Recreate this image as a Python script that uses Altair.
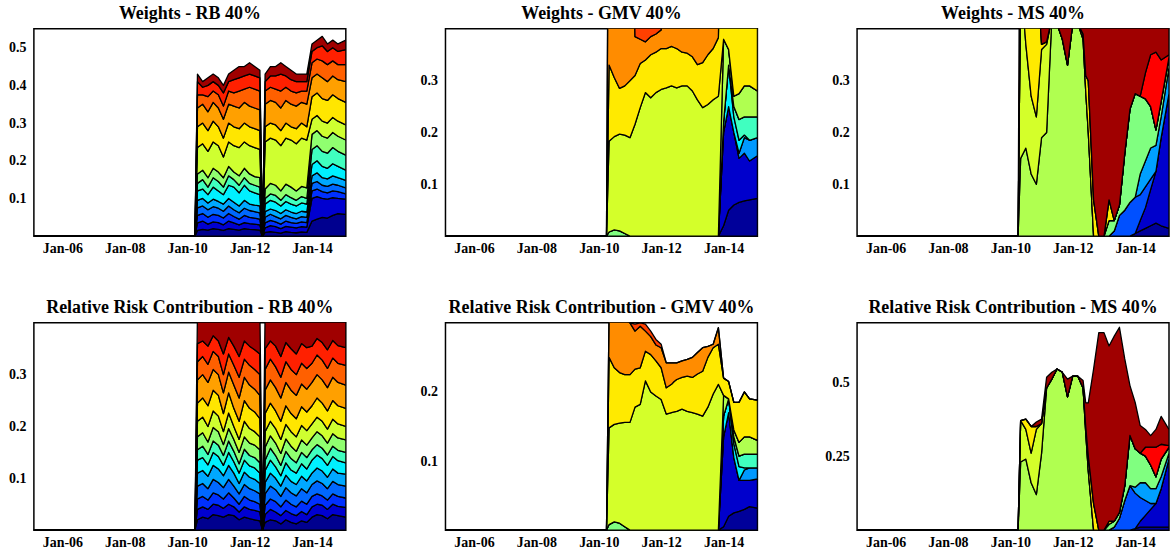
import altair as alt
import numpy as np
import pandas as pd

# ---------------- data ----------------
LEAD_DATES = ["2005-02-01", "2010-04-01"]  # portfolios hold nothing before mid-2010
DATES = ["2010-05-01", "2010-07-01", "2010-09-01", "2010-11-01", "2011-01-01", "2011-03-01",
         "2011-05-01", "2011-07-01", "2011-09-01", "2011-11-01", "2012-01-01", "2012-03-01",
         "2012-05-01", "2012-06-01", "2012-07-01", "2012-09-01", "2012-11-01", "2013-01-01",
         "2013-03-01", "2013-05-01", "2013-07-01", "2013-09-01", "2013-11-01", "2014-01-01",
         "2014-03-01", "2014-05-01", "2014-07-01", "2014-09-01", "2014-11-01", "2015-02-01"]
X_TICK_YEARS = [2006, 2008, 2010, 2012, 2014]

# RB weights: cumulative level of each band (bottom -> top)
RB_W_LEVELS = [
    [.015, .018, .016, .02, .018, .015, .02, .018, .016, .02, .018, .017, .016, 0, .01, .012, .01, .008, .012, .01, .009, .011, .01, .04, .045, .05, .048, .055, .06, .058],
    [.035, .04, .032, .038, .036, .03, .04, .035, .03, .036, .033, .032, .03, 0, .022, .028, .025, .02, .026, .024, .022, .025, .024, .10, .105, .10, .098, .102, .10, .098],
    [.055, .06, .05, .058, .055, .048, .06, .052, .045, .055, .05, .048, .045, 0, .035, .042, .038, .032, .04, .036, .034, .038, .036, .12, .125, .118, .115, .12, .118, .112],
    [.075, .08, .07, .078, .074, .066, .08, .07, .062, .074, .068, .065, .062, 0, .05, .058, .052, .046, .055, .05, .046, .052, .05, .14, .145, .135, .132, .138, .135, .128],
    [.095, .10, .088, .098, .092, .085, .10, .09, .08, .095, .085, .082, .08, 0, .065, .072, .068, .06, .07, .064, .06, .066, .064, .16, .168, .155, .152, .16, .155, .148],
    [.12, .125, .11, .13, .12, .11, .135, .13, .115, .135, .12, .115, .11, 0, .085, .095, .09, .08, .092, .085, .08, .088, .085, .19, .2, .185, .18, .192, .185, .175],
    [.14, .15, .13, .155, .145, .13, .16, .15, .135, .155, .14, .135, .13, 0, .10, .112, .108, .095, .11, .102, .095, .105, .10, .23, .24, .225, .22, .235, .225, .215],
    [.165, .175, .155, .18, .17, .155, .185, .17, .16, .18, .165, .158, .155, 0, .125, .14, .135, .12, .138, .13, .12, .132, .128, .27, .28, .265, .26, .275, .265, .255],
    [.235, .245, .225, .25, .24, .21, .25, .24, .235, .25, .24, .235, .23, 0, .25, .26, .255, .24, .26, .255, .245, .26, .255, .31, .32, .305, .30, .315, .305, .295],
    [.29, .30, .28, .305, .29, .26, .30, .29, .285, .30, .29, .285, .28, 0, .29, .30, .295, .28, .30, .29, .285, .30, .29, .37, .38, .365, .36, .375, .365, .355],
    [.34, .35, .33, .355, .34, .31, .35, .345, .34, .355, .345, .34, .335, 0, .35, .36, .355, .34, .36, .35, .345, .355, .35, .42, .43, .42, .41, .425, .415, .41],
    [.375, .375, .37, .385, .375, .345, .385, .38, .385, .39, .395, .39, .385, 0, .385, .395, .39, .385, .395, .385, .38, .385, .385, .46, .47, .465, .455, .465, .455, .455],
    [.41, .395, .40, .41, .40, .38, .41, .415, .42, .425, .43, .425, .42, 0, .41, .425, .425, .43, .425, .415, .41, .41, .41, .49, .50, .505, .49, .50, .49, .495],
    [.43, .41, .42, .43, .42, .40, .43, .44, .45, .45, .46, .45, .44, 0, .43, .45, .45, .46, .45, .44, .43, .43, .43, .51, .52, .53, .51, .52, .51, .52],
]

# RB relative risk contributions: cumulative level of each band (bottom -> top)
RB_RC_LEVELS = [
    [.02, .025, .022, .03, .028, .025, .03, .028, .02, .025, .022, .02, .018, 0, .015, .02, .018, .012, .02, .015, .012, .018, .015, .025, .03, .028, .022, .03, .028, .025],
    [.04, .045, .04, .05, .048, .042, .05, .045, .035, .045, .04, .038, .035, 0, .03, .04, .035, .028, .038, .032, .028, .036, .03, .045, .05, .048, .04, .05, .046, .044],
    [.06, .065, .058, .072, .068, .06, .072, .062, .05, .065, .058, .055, .05, 0, .048, .06, .055, .045, .058, .05, .045, .056, .05, .065, .07, .066, .058, .07, .065, .062],
    [.085, .09, .08, .098, .092, .082, .098, .085, .07, .088, .08, .076, .07, 0, .07, .085, .078, .065, .082, .072, .066, .08, .072, .088, .095, .09, .08, .094, .088, .085],
    [.11, .115, .104, .125, .118, .105, .125, .11, .09, .112, .102, .098, .09, 0, .092, .11, .1, .085, .106, .094, .088, .104, .095, .11, .12, .114, .102, .118, .11, .108],
    [.135, .14, .126, .15, .142, .125, .15, .132, .11, .135, .124, .12, .11, 0, .115, .135, .122, .105, .13, .116, .11, .128, .118, .135, .145, .138, .125, .142, .134, .13],
    [.155, .162, .146, .172, .164, .144, .172, .152, .128, .156, .144, .14, .13, 0, .135, .158, .144, .125, .152, .138, .13, .15, .14, .155, .165, .158, .145, .162, .154, .15],
    [.18, .188, .17, .198, .19, .165, .196, .175, .15, .18, .168, .164, .155, 0, .16, .182, .168, .148, .176, .162, .152, .174, .164, .178, .19, .182, .168, .186, .178, .174],
    [.21, .218, .2, .23, .22, .19, .226, .2, .175, .21, .196, .19, .18, 0, .19, .21, .196, .175, .204, .19, .18, .202, .192, .205, .218, .21, .195, .214, .205, .2],
    [.245, .255, .24, .27, .26, .225, .265, .235, .21, .25, .235, .228, .215, 0, .225, .245, .23, .21, .24, .225, .215, .238, .228, .24, .255, .245, .23, .25, .24, .235],
    [.29, .3, .285, .31, .3, .265, .305, .28, .255, .295, .28, .272, .26, 0, .27, .29, .275, .255, .285, .27, .26, .282, .272, .285, .3, .29, .275, .295, .285, .28],
    [.325, .335, .32, .345, .335, .3, .34, .318, .295, .33, .318, .31, .3, 0, .31, .33, .315, .295, .325, .31, .3, .322, .312, .322, .338, .328, .312, .332, .322, .318],
    [.36, .365, .355, .375, .365, .34, .372, .355, .335, .365, .355, .348, .34, 0, .35, .365, .355, .335, .362, .35, .34, .36, .352, .355, .37, .362, .348, .366, .356, .352],
    [.42, .42, .42, .42, .42, .42, .42, .42, .42, .42, .42, .42, .42, 0, .42, .42, .42, .42, .42, .42, .42, .42, .42, .42, .42, .42, .42, .42, .42, .42],
]
RB_COLORS = ["#00008f", "#0000d0", "#0030ff", "#0068ff", "#00a8ff", "#00f0ff", "#40ffbf",
             "#90ff70", "#cfff30", "#ffe600", "#ffa000", "#ff6000", "#ff2000", "#a00000"]

# GMV weights per asset (bottom -> top)
GMV_NAMES = ["navy", "blue", "sky", "cyan", "aqua", "lgreen", "gyellow", "ygreen", "yellow", "orange", "redorange"]
GMV_COLORS = ["#00009a", "#0000cc", "#0099ff", "#00f0ff", "#40ffc0", "#80ff80", "#b0ff50", "#d4ff2a", "#ffea00", "#ff8c00", "#ff4000"]
GMV_W = [
    [0] * 23 + [.02, .05, .06, .065, .068, .07, .073],
    [0] * 23 + [.18, .2, .14, .085, .092, .075, .082],
    [0] * 23 + [0, 0, 0, .01, .03, .04, .035],
    [0] * 23 + [.02, .08, .03, .025, .005, 0, 0],
    [0] * 23 + [0, 0, .02, .04, .035, .045, .04],
    [.008, .012, .01, .005] + [0] * 26,
    [0] * 23 + [.16, .03, .02, .05, .06, .06, .05],
    [.175, .18, .187, .19, .19, .216, .248, .277, .267, .277, .283, .286, .29, .288, .286, .29, .29, .28, .263, .248, .254, .263, .27] + [0] * 7,
    [.147, .114, .088, .095, .11, .094, .085, .063, .083, .078, .079, .076, .076, .076, .076, .065, .063, .066, .068, .087, .096, .099, .113] + [.5] * 7,
    [.6, .6, .6, .6, .6, .075, .047, .035, .035, .035, .036] + [.6] * 12 + [0] * 7,
    [0] * 5 + [.3] * 6 + [0] * 19,
]
GMV_RC = [
    [0] * 23 + [.005, .02, .025, .027, .03, .034, .032],
    [0] * 23 + [.13, .15, .08, .045, .042, .038, .042],
    [0] * 23 + [0, 0, 0, 0, .015, .018, .016],
    [0] * 23 + [.03, .02, .02, .02, .003, 0, 0],
    [0] * 23 + [0, 0, .01, .015, .02, .02, .02],
    [.008, .012, .01, .005] + [0] * 26,
    [0] * 23 + [.03, 0, .01, .02, .025, .025, .02],
    [.14, .141, .145, .151, .156, .178, .182, .216, .2, .194, .189, .168, .17, .171, .172, .175, .172, .17, .168, .165, .178, .197, .211] + [0] * 7,
    [.102, .082, .073, .069, .069, .055, .053, .043, .054, .051, .046, .038, .041, .044, .046, .046, .051, .051, .058, .065, .072, .067, .058, .025, .025, .04, .058, .065, .055, .058],
    [.06, .075, .082, .08, .075, .055, .06, .029, .026, .023, .029, .036, .031, .027, .024, .024, .024, .029, .031, .034, .016, .005, .024] + [0] * 7,
    [0, 0, 0, 0, 0, .01, .005, .01, .008, .008, .005] + [0] * 19,
]

# MS weights per asset (bottom -> top)
MS_NAMES = ["navy", "blue", "blue2", "sky", "lgreen", "gyellow", "ygreen", "yellow", "red", "darkred"]
MS_COLORS = ["#00009a", "#0000cc", "#0050ff", "#00a0ff", "#80ff80", "#b0ff50", "#d4ff2a", "#ffea00", "#ff0000", "#a00000"]
MS_W = [
    [0] * 23 + [.005, .01, .015, .02, .025, .02, .015],
    [0] * 24 + [.02, .04, .07, .1, .17, .26],
    [0] * 19 + [.01, .04, .05, .065, .07, .05, .04, .02, 0, 0, 0],
    [0] * 24 + [.04, .05, .06, .05, .04, .05],
    [0] * 18 + [.03, .02, .02, .11, .18, .2, .15, .12, .08, .03, .03, .02],
    [.15, .17, .12, .10, .19, .2, .42, .41, .38, .33, .41, .41, .38, .28, .2] + [0] * 15,
    [.35, .2, .15, .13, .17, .17] + [0] * 24,
    [0, .05, .3, .3, .01, .005, 0, 0, 0, 0, 0, 0, .01, .03, .1, .07, 0, 0, .04] + [0] * 11,
    [0] * 25 + [.05, .1, .15, .08, .005],
    [.5, .53, .43, .47, .63, .625, .58, .59, .62, .67, .59, .59, .61, .69, .70, .93, 1, 1, .93, .97, .94, .84, .755, .725, .73, .685, .65, .645, .66, .65],
]
MS_RC = [
    [0] * 23 + [.005, .01, .01, .01, .01, .01, .01],
    [0] * 24 + [.02, .04, .06, .08, .13, .23],
    [0] * 19 + [.01, .04, .1, .15, .12, .08, .05, .02, 0, 0, 0],
    [0] * 23 + [.02, .05, .06, .05, .05, .04, .02],
    [0] * 18 + [.02, .02, .02, .05, .17, .13, .1, .09, .08, .04, .06, .02],
    [.23, .24, .16, .12, .26, .48, .51, .544, .533, .45, .52, .52, .48, .33, .2] + [0] * 15,
    [.14, .1, .1, .22, .1] + [0] * 25,
    [0, .035, .09, .01, 0, 0, 0, 0, 0, 0, 0, 0, 0, .02, .05, .09, 0, 0, .01] + [0] * 11,
    [0] * 25 + [.03, .06, .1, .05, .005],
    [0, 0, 0, .015, .015, .036, .023, 0, 0, .06, 0, 0, .025, .08, .18, .454, .667, .667, .592, .625, .625, .428, .168, .156, .093, .06, .039, .06, .094, .055],
]

# ---------------- helpers ----------------
ALL_DATES = LEAD_DATES + DATES
FONT = "Liberation Serif"


def table_from_levels(prefix, levels):
    rows = []
    prev = np.zeros(len(DATES))
    for k, lev in enumerate(levels):
        lev = np.array(lev, dtype=float)
        lo = np.concatenate([[0, 0], prev])
        hi = np.concatenate([[0, 0], lev])
        for d, a, b in zip(ALL_DATES, lo, hi):
            rows.append({"date": d, "band": f"{prefix}{k:02d}", "lo": a, "hi": b})
        prev = lev
    return pd.DataFrame(rows), [f"{prefix}{k:02d}" for k in range(len(levels))]


def table_from_weights(prefix, weights):
    cum = np.cumsum(np.array(weights, dtype=float), axis=0)
    return table_from_levels(prefix, list(cum))


X_DOMAIN = [alt.DateTime(year=2005, month=2, date=1, utc=True),
            alt.DateTime(year=2015, month=2, date=1, utc=True)]
X_TICKS = [alt.DateTime(year=y, month=1, date=1, utc=True) for y in X_TICK_YEARS]


def panel(table, colors, title, ymax, yticks):
    df, names = table
    return alt.Chart(df).mark_area(
        stroke="black", strokeWidth=1.3, clip=True, strokeJoin="round", interpolate="linear"
    ).encode(
        x=alt.X("date:T", scale=alt.Scale(domain=X_DOMAIN),
                axis=alt.Axis(values=X_TICKS, labelExpr="utcFormat(datum.value, '%b-%y')",
                              ticks=False, domain=False, grid=False, labelPadding=5,
                              labelFont=FONT, labelFontSize=14, labelFontWeight="bold",
                              labelColor="black", title=None)),
        y=alt.Y("hi:Q", scale=alt.Scale(domain=[0, ymax], nice=False, zero=True),
                axis=alt.Axis(values=yticks, format=".2~f", ticks=False, domain=False, grid=False,
                              labelPadding=8, labelFont=FONT, labelFontSize=14,
                              labelFontWeight="bold", labelColor="black", title=None,
                              minExtent=33, maxExtent=33)),
        y2="lo:Q",
        color=alt.Color("band:N", scale=alt.Scale(domain=names, range=colors), legend=None),
        detail="band:N",
    ).properties(
        width=313, height=208,
        title=alt.TitleParams(title, font=FONT, fontSize=18, fontWeight="bold", color="black", offset=6),
    )


p1 = panel(table_from_levels("a", RB_W_LEVELS), RB_COLORS, "Weights - RB 40%", 0.55, [0.1, 0.2, 0.3, 0.4, 0.5])
p2 = panel(table_from_weights("b", GMV_W), GMV_COLORS, "Weights - GMV 40%", 0.4, [0.1, 0.2, 0.3])
p3 = panel(table_from_weights("c", MS_W), MS_COLORS, "Weights - MS 40%", 0.4, [0.1, 0.2, 0.3])
p4 = panel(table_from_levels("d", RB_RC_LEVELS), RB_COLORS, "Relative Risk Contribution - RB 40%", 0.4, [0.1, 0.2, 0.3])
p5 = panel(table_from_weights("e", GMV_RC), GMV_COLORS, "Relative Risk Contribution - GMV 40%", 0.3, [0.1, 0.2])
p6 = panel(table_from_weights("f", MS_RC), MS_COLORS, "Relative Risk Contribution - MS 40%", 0.7, [0.25, 0.5])

chart = alt.concat(p1, p2, p3, p4, p5, p6, columns=3, spacing={"row": 42, "column": 65}).resolve_scale(
    color="independent", x="independent", y="independent"
).properties(
    padding={"left": 0, "top": 3, "right": 0, "bottom": 0},
    background="white",
).configure_view(
    stroke="black", strokeWidth=1.5
)

chart.save("out.html", embed_options={"renderer": "svg", "actions": False})
